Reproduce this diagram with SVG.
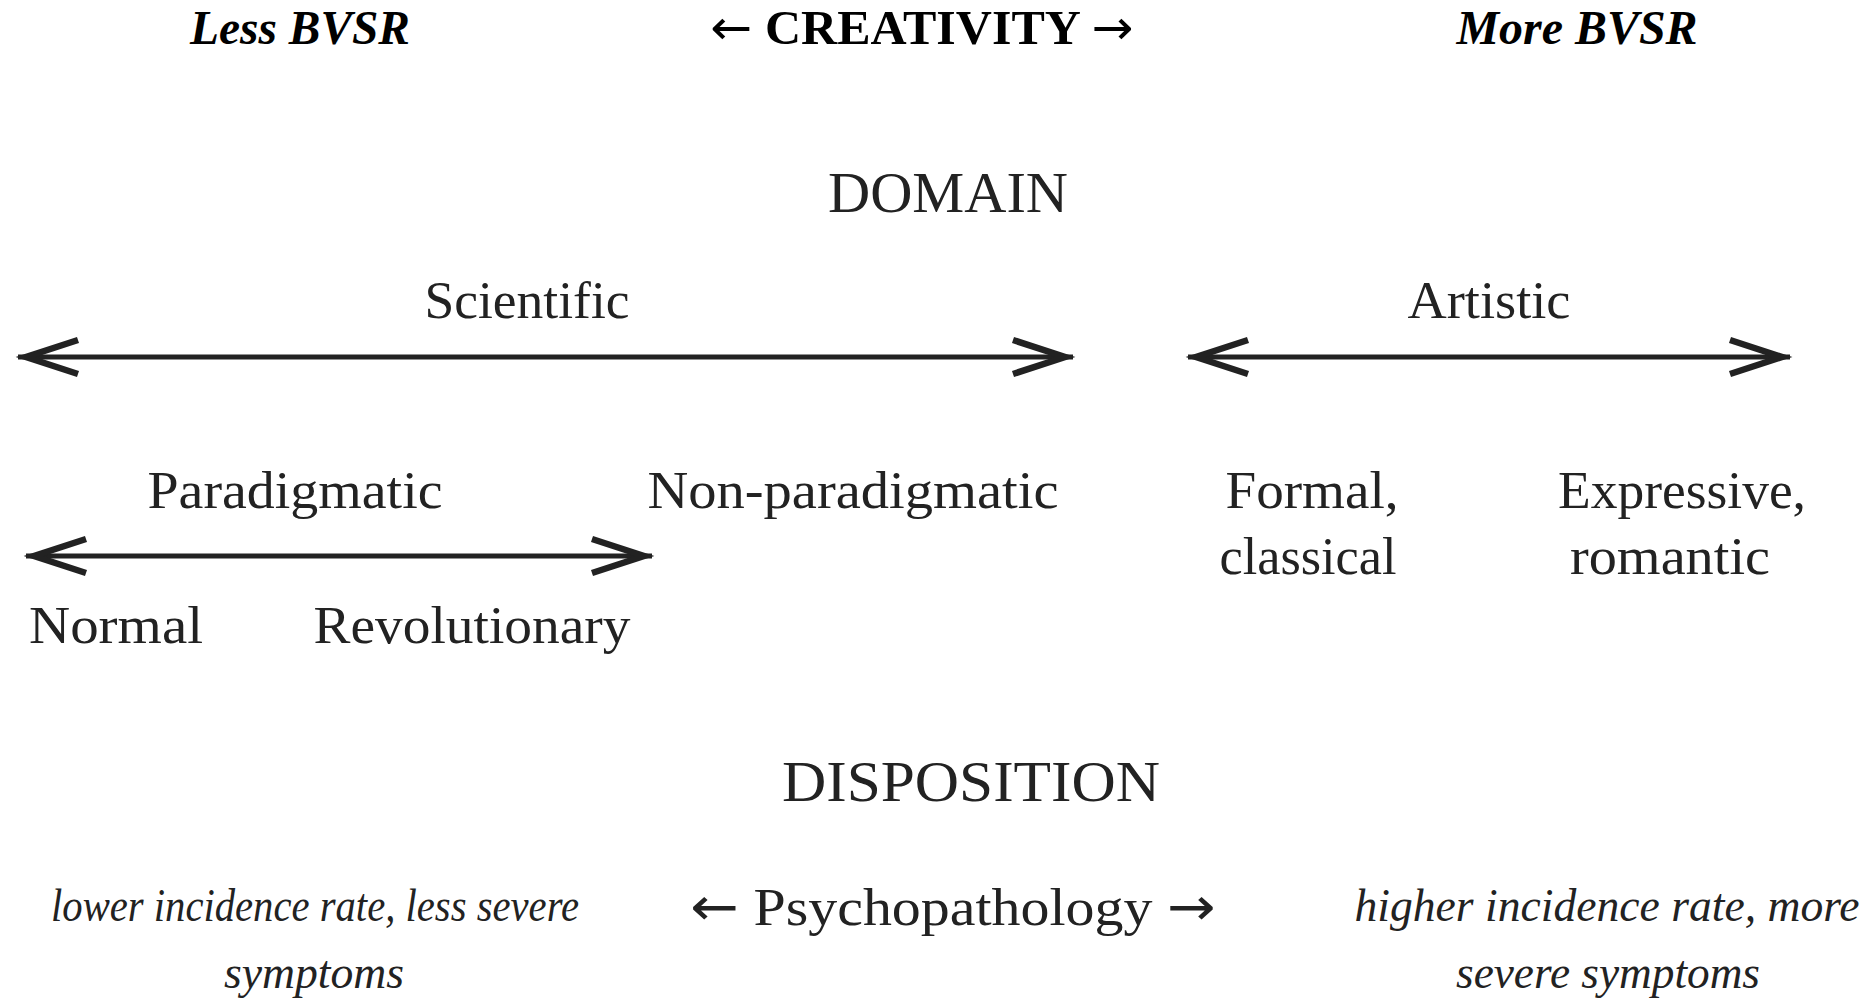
<svg xmlns="http://www.w3.org/2000/svg" width="1875" height="1005" viewBox="0 0 1875 1005">
  <style>
    .head { font-family: "Liberation Serif", "Times New Roman", serif; font-weight: bold; font-size: 48px; fill: #000; text-anchor: middle; }
    .head-i { font-style: italic; }
    .title { font-family: "Liberation Serif", "Times New Roman", serif; font-size: 58px; fill: #222; text-anchor: middle; }
    .lbl { font-family: "Liberation Serif", "Times New Roman", serif; font-size: 53px; fill: #222; text-anchor: middle; }
    .note { font-family: "Liberation Serif", "Times New Roman", serif; font-style: italic; font-size: 46px; fill: #222; text-anchor: middle; }
    .arr { font-family: "DejaVu Sans", sans-serif; font-weight: normal; }
    .axis { stroke: #222; stroke-width: 5; fill: none; }
  </style>
  <defs>
    <!-- open chevron head, used at both ends of each axis -->
    <marker id="chev" markerUnits="userSpaceOnUse" markerWidth="80" markerHeight="60" viewBox="-70 -30 80 60" refX="0" refY="0" orient="auto-start-reverse">
      <path d="M -60 -17 L -8 0 L -60 17" fill="none" stroke="#222" stroke-width="6.5"/>
    </marker>
  </defs>

  <rect width="1875" height="1005" fill="#fff"/>

  <!-- header row -->
  <g id="less-bvsr"><text class="head head-i" x="300" y="44" textLength="220" lengthAdjust="spacingAndGlyphs">Less BVSR</text></g>
  <g id="creativity"><text class="head" x="922" y="44" textLength="423" lengthAdjust="spacingAndGlyphs"><tspan class="arr">←</tspan> CREATIVITY <tspan class="arr">→</tspan></text></g>
  <g id="more-bvsr"><text class="head head-i" x="1577" y="44" textLength="241" lengthAdjust="spacingAndGlyphs">More BVSR</text></g>

  <!-- domain section -->
  <g id="domain"><text class="title" x="948" y="212" textLength="240" lengthAdjust="spacingAndGlyphs">DOMAIN</text></g>
  <g id="scientific"><text class="lbl" x="527" y="318" textLength="205" lengthAdjust="spacingAndGlyphs">Scientific</text></g>
  <g id="artistic"><text class="lbl" x="1489" y="318" textLength="163" lengthAdjust="spacingAndGlyphs">Artistic</text></g>
  <g id="paradigmatic"><text class="lbl" x="295" y="508" textLength="295" lengthAdjust="spacingAndGlyphs">Paradigmatic</text></g>
  <g id="non-paradigmatic"><text class="lbl" x="853" y="508" textLength="411" lengthAdjust="spacingAndGlyphs">Non-paradigmatic</text></g>
  <g id="formal">
    <text class="lbl" x="1312" y="508" textLength="173" lengthAdjust="spacingAndGlyphs">Formal,</text>
    <text class="lbl" x="1308" y="574" textLength="177" lengthAdjust="spacingAndGlyphs">classical</text>
  </g>
  <g id="expressive">
    <text class="lbl" x="1682" y="508" textLength="248" lengthAdjust="spacingAndGlyphs">Expressive,</text>
    <text class="lbl" x="1670" y="574" textLength="200" lengthAdjust="spacingAndGlyphs">romantic</text>
  </g>
  <g id="normal"><text class="lbl" x="116" y="643" textLength="174" lengthAdjust="spacingAndGlyphs">Normal</text></g>
  <g id="revolutionary"><text class="lbl" x="472" y="643" textLength="317" lengthAdjust="spacingAndGlyphs">Revolutionary</text></g>

  <!-- disposition section -->
  <g id="disposition"><text class="title" x="971" y="801" textLength="378" lengthAdjust="spacingAndGlyphs">DISPOSITION</text></g>
  <g id="lower">
    <text class="note" x="315" y="921" textLength="528" lengthAdjust="spacingAndGlyphs">lower incidence rate, less severe</text>
    <text class="note" x="314" y="988" textLength="180" lengthAdjust="spacingAndGlyphs">symptoms</text>
  </g>
  <g id="psychopathology"><text class="lbl" x="953" y="925" textLength="525" lengthAdjust="spacingAndGlyphs"><tspan class="arr">←</tspan> Psychopathology <tspan class="arr">→</tspan></text></g>
  <g id="higher">
    <text class="note" x="1607" y="921" textLength="505" lengthAdjust="spacingAndGlyphs">higher incidence rate, more</text>
    <text class="note" x="1608" y="988" textLength="304" lengthAdjust="spacingAndGlyphs">severe symptoms</text>
  </g>

  <!-- double-headed axes -->
  <g id="connectors">
    <line class="axis" x1="18" y1="357" x2="1073" y2="357" marker-start="url(#chev)" marker-end="url(#chev)"/>
    <line class="axis" x1="1188" y1="357" x2="1790" y2="357" marker-start="url(#chev)" marker-end="url(#chev)"/>
    <line class="axis" x1="26" y1="556" x2="652" y2="556" marker-start="url(#chev)" marker-end="url(#chev)"/>
  </g>
</svg>
